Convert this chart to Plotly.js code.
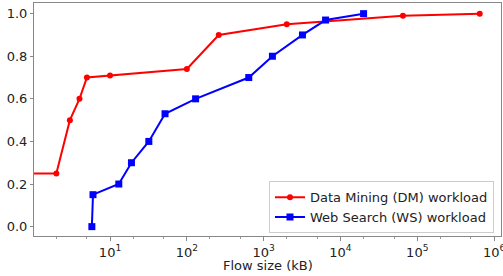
<!DOCTYPE html>
<html>
<head>
<meta charset="utf-8">
<script src="https://cdn.plot.ly/plotly-3.0.1.min.js"></script>
<style>html,body{margin:0;padding:0;background:#fff;}#chart{width:503px;height:276px;}</style>
</head>
<body>
<div id="chart"></div>
<script>
const dmName = "Data Mining (DM) workload";
const dmX = [0.5, 2, 3, 4, 5, 10, 100, 260, 2000, 65000, 650000];
const dmY = [0.25, 0.25, 0.5, 0.6, 0.7, 0.71, 0.74, 0.9, 0.95, 0.99, 1.0];

const wsName = "Web Search (WS) workload";
const wsX = [5.8, 6, 13, 19, 32, 52, 130, 640, 1300, 3200, 6400, 20000];
const wsY = [0, 0.15, 0.2, 0.3, 0.4, 0.53, 0.6, 0.7, 0.8, 0.9, 0.97, 1.0];

const xTitle = "Flow size (kB)";
const xTickVals = [10, 100, 1000, 10000, 100000, 1000000];
const xTickText = ["10<sup>1</sup>", "10<sup>2</sup>", "10<sup>3</sup>", "10<sup>4</sup>", "10<sup>5</sup>", "10<sup>6</sup>"];
const yTickVals = [0, 0.2, 0.4, 0.6, 0.8, 1.0];
const yTickText = ["0.0", "0.2", "0.4", "0.6", "0.8", "1.0"];

const font = {family: "DejaVu Sans", size: 13, color: "#222"};

const traces = [
  {x: dmX, y: dmY, name: dmName, type: "scatter", mode: "lines+markers",
   line: {color: "#ff0000", width: 2}, marker: {color: "#ff0000", size: 6, symbol: "circle"}},
  {x: wsX, y: wsY, name: wsName, type: "scatter", mode: "lines+markers",
   line: {color: "#0000ff", width: 2}, marker: {color: "#0000ff", size: 7, symbol: "square"}}
];

const layout = {
  width: 503, height: 276,
  margin: {l: 34, r: 2, t: 3, b: 40},
  paper_bgcolor: "#fff", plot_bgcolor: "#fff",
  font: font,
  showlegend: true,
  xaxis: {
    type: "log", range: [0.01, 6.09],
    tickvals: xTickVals, ticktext: xTickText,
    ticks: "outside", ticklen: 4, tickcolor: "#888", tickwidth: 1,
    ticklabeloverflow: "allow", ticklabelstandoff: 0,
    minor: {ticks: "outside", ticklen: 2, tickcolor: "#999", showgrid: false},
    showgrid: false, zeroline: false,
    showline: true, linecolor: "#888", linewidth: 1, mirror: true,
    tickfont: font
  },
  yaxis: {
    range: [-0.044, 1.05],
    tickvals: yTickVals, ticktext: yTickText,
    ticks: "outside", ticklen: 3, tickcolor: "#888", tickwidth: 1,
    ticklabelstandoff: 0,
    showgrid: false, zeroline: false,
    showline: true, linecolor: "#888", linewidth: 1, mirror: true,
    tickfont: font
  },
  annotations: [{
    text: xTitle, xref: "paper", yref: "paper", x: 0.5, y: -0.127,
    xanchor: "center", yanchor: "middle", showarrow: false, font: font
  }],
  legend: {
    x: 0.985, xanchor: "right", y: 0.012, yanchor: "bottom",
    bgcolor: "rgba(255,255,255,0.8)", bordercolor: "#ccc", borderwidth: 1,
    font: font, itemwidth: 30, tracegroupgap: 0
  }
};

Plotly.newPlot("chart", traces, layout, {displayModeBar: false, staticPlot: true});
</script>
</body>
</html>
